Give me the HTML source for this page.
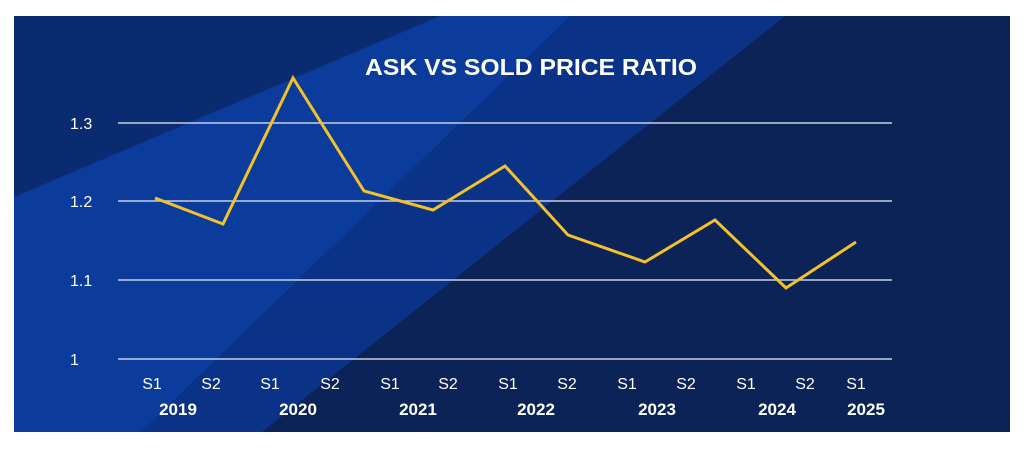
<!DOCTYPE html>
<html><head><meta charset="utf-8"><style>
html,body{margin:0;padding:0;background:#fff;}
svg{display:block;}
text{font-family:"Liberation Sans",sans-serif;fill:#fff;}
</style></head><body>
<svg width="1024" height="457" viewBox="0 0 1024 457">
<rect x="0" y="0" width="1024" height="457" fill="#fff"/>
<rect x="14" y="16" width="996" height="416" fill="#0c2358"/>
<polygon points="14,16 785,16 262,432 14,432" fill="#0a3387"/>
<polygon points="14,197 440,16 570,16 141,432 14,432" fill="#0b3c9b"/>
<polygon points="14,16 440,16 14,197" fill="#0b2b70"/>
<text x="365" y="75" font-size="23" font-weight="bold" textLength="332" lengthAdjust="spacingAndGlyphs">ASK VS SOLD PRICE RATIO</text>
<g stroke="#c8d0e0" stroke-width="1.6">
<line x1="118" y1="123" x2="892" y2="123"/>
<line x1="118" y1="201" x2="892" y2="201"/>
<line x1="118" y1="280" x2="892" y2="280"/>
<line x1="118" y1="359" x2="892" y2="359"/>
</g>
<g font-size="16" fill="#fff">
<text x="70" y="129">1.3</text>
<text x="70" y="207">1.2</text>
<text x="70" y="286">1.1</text>
<text x="70" y="365">1</text>
</g>
<polyline fill="none" stroke="#f3c12c" stroke-width="3" stroke-linejoin="miter" points="155,198 223,224 293,78 364,191 433,210 505,166 568,235 645,262 715,220 786,288 856,242"/>
<g font-size="16" text-anchor="middle">
<text x="152" y="389">S1</text><text x="211" y="389">S2</text>
<text x="270" y="389">S1</text><text x="330" y="389">S2</text>
<text x="390" y="389">S1</text><text x="448" y="389">S2</text>
<text x="508" y="389">S1</text><text x="567" y="389">S2</text>
<text x="627" y="389">S1</text><text x="686" y="389">S2</text>
<text x="746" y="389">S1</text><text x="805" y="389">S2</text>
<text x="856" y="389">S1</text>
</g>
<g font-size="17" font-weight="bold" text-anchor="middle">
<text x="178" y="415">2019</text><text x="298" y="415">2020</text>
<text x="418" y="415">2021</text><text x="536" y="415">2022</text>
<text x="657" y="415">2023</text><text x="777" y="415">2024</text>
<text x="866" y="415">2025</text>
</g>
</svg>
</body></html>
